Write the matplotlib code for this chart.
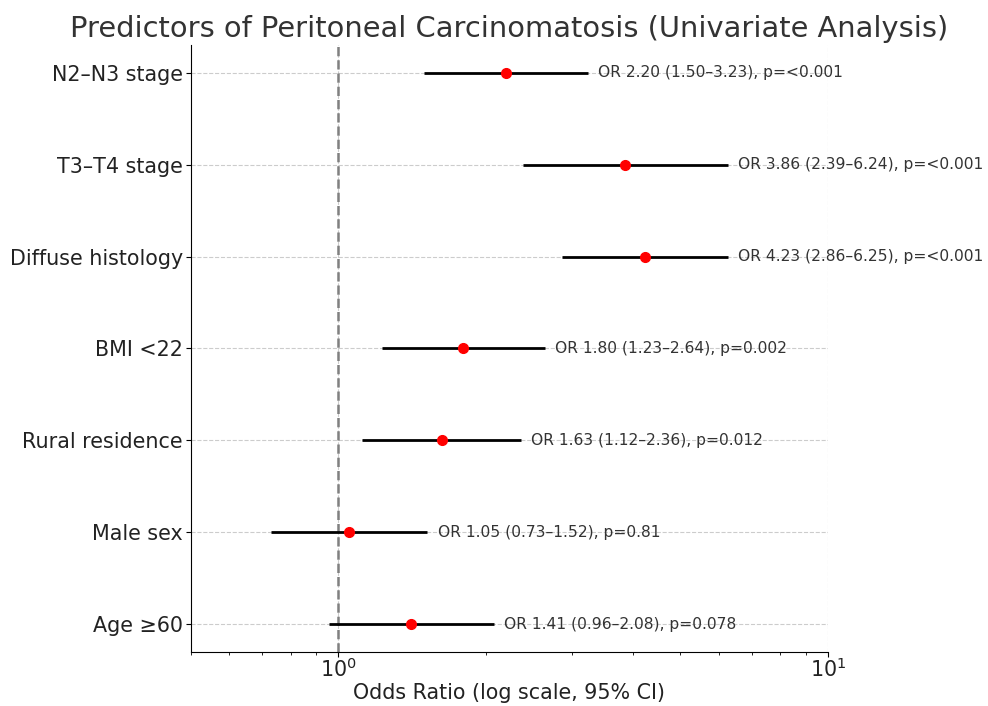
import matplotlib
matplotlib.use("Agg")
import matplotlib.pyplot as plt
import numpy as np

# data (bottom to top)
labels = ["Age ≥60", "Male sex", "Rural residence", "BMI <22",
          "Diffuse histology", "T3–T4 stage", "N2–N3 stage"]
odds = [1.41, 1.05, 1.63, 1.80, 4.23, 3.86, 2.20]
ci_low = [0.96, 0.73, 1.12, 1.23, 2.86, 2.39, 1.50]
ci_high = [2.08, 1.52, 2.36, 2.64, 6.25, 6.24, 3.23]
pvals = ["0.078", "0.81", "0.012", "0.002", "<0.001", "<0.001", "<0.001"]

y = np.arange(len(labels))

fig, ax = plt.subplots(figsize=(9.88, 7.06), dpi=100)

ax.hlines(y, ci_low, ci_high, color="black", linewidth=2, zorder=3)
ax.plot(odds, y, "o", color="red", markersize=7, zorder=4)
ax.axvline(1, color="gray", linestyle="--", linewidth=1.8, zorder=2)

for yi, o, lo, hi, p in zip(y, odds, ci_low, ci_high, pvals):
    ax.text(hi * 1.05, yi, f"OR {o:.2f} ({lo:.2f}–{hi:.2f}), p={p}",
            va="center", ha="left", fontsize=11.2, color="#333333")

ax.set_xscale("log")
ax.set_xlim(0.5, 10)
ax.set_yticks(y)
ax.set_yticklabels(labels, fontsize=14.9, color="#222222")
ax.tick_params(axis="x", labelsize=14.9, labelcolor="#222222", pad=1)
ax.tick_params(axis="y", pad=2)
ax.set_xlabel("Odds Ratio (log scale, 95% CI)", fontsize=14.9, color="#222222",
              labelpad=1)
ax.set_title("Predictors of Peritoneal Carcinomatosis (Univariate Analysis)",
             fontsize=20.8, color="#333333")
ax.grid(True, linestyle="--", color="#cccccc", linewidth=0.8, zorder=0)
ax.spines["top"].set_visible(False)
ax.spines["right"].set_visible(False)

plt.subplots_adjust(left=0.193, right=0.838, top=0.936, bottom=0.077)
plt.savefig("out.png", dpi=100)
